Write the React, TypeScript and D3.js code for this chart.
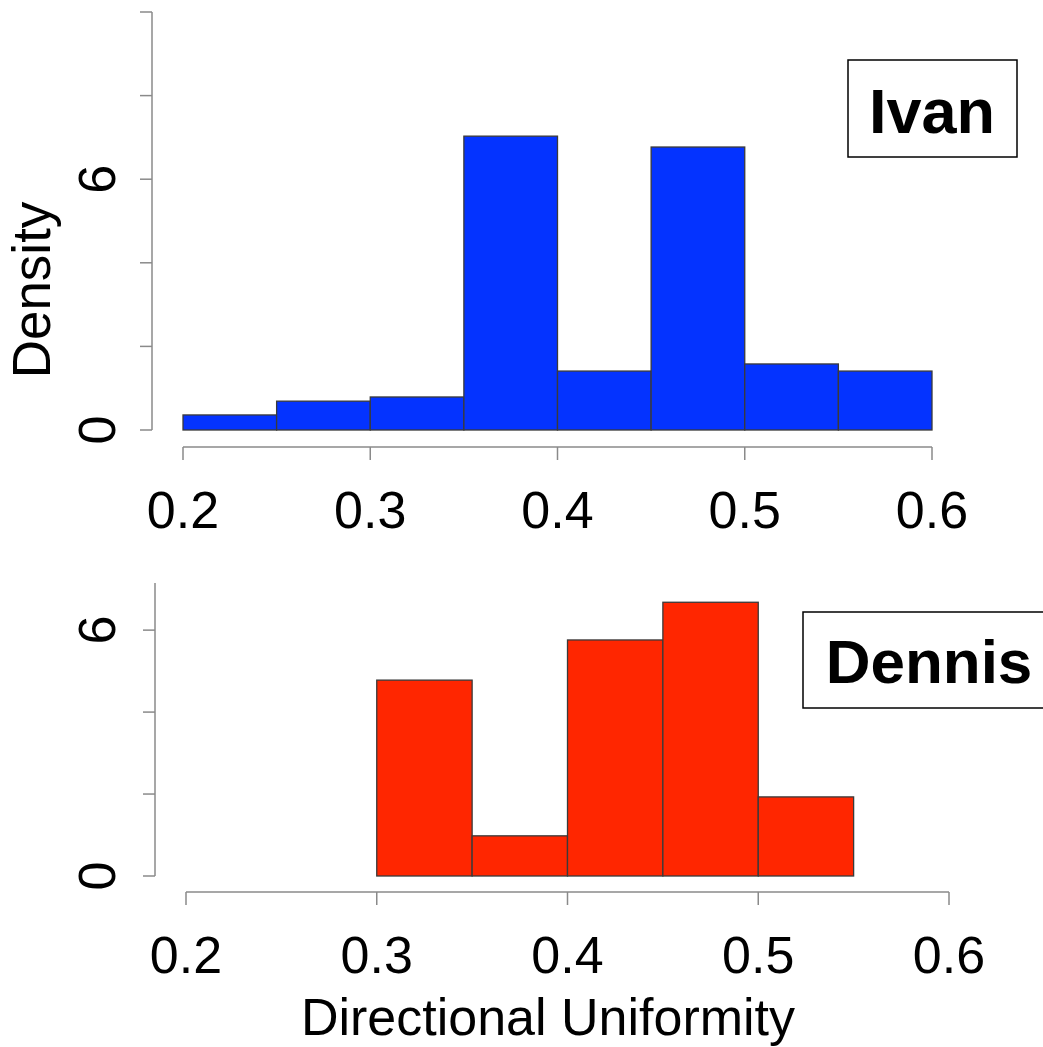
import { useEffect, useRef } from "react";
import * as d3 from "d3";

const W = 1043;
const H = 1047;

// histogram bins (left edges) and densities
const ivanBins = [0.2, 0.25, 0.3, 0.35, 0.4, 0.45, 0.5, 0.55];
const ivanDensity = [0.36, 0.69, 0.79, 7.03, 1.41, 6.77, 1.58, 1.41];

const dennisBins = [0.3, 0.35, 0.4, 0.45, 0.5];
const dennisDensity = [4.78, 0.98, 5.76, 6.68, 1.93];

const BIN_W = 0.05;
const xTicks = [0.2, 0.3, 0.4, 0.5, 0.6];
const yTicksIvan = [0, 2, 4, 6, 8, 10];
const yTickLabelsIvan = [0, 6];
const yTicksDennis = [0, 2, 4, 6];
const yTickLabelsDennis = [0, 6];

const FONT = "'Liberation Sans', Arial, Helvetica, sans-serif";
const AXIS = "#8a8a8a";

export default function App() {
  const svgRef = useRef<SVGSVGElement>(null);

  useEffect(() => {
    const svg = d3.select(svgRef.current);
    svg.selectAll("*").remove();

    svg.append("rect").attr("width", W).attr("height", H).attr("fill", "#fff");

    // ── one panel ──────────────────────────────────────────────────────────
    const panel = (opts: {
      bins: number[];
      dens: number[];
      fill: string;
      x0: number; x1: number;
      yBase: number; yTop: number; yMax: number;
      axisY: number; tickLabelY: number;
      yAxisX: number;
      yTicks: number[]; yLabels: number[];
      name: string; box: [number, number, number, number];
      nameX: number; nameY: number; nameSize: number;
    }) => {
      const x = d3.scaleLinear().domain([0.2, 0.6]).range([opts.x0, opts.x1]);
      const y = d3.scaleLinear().domain([0, opts.yMax]).range([opts.yBase, opts.yTop]);

      // bars
      svg.append("g").selectAll("rect")
        .data(opts.bins)
        .join("rect")
        .attr("x", (d) => x(d))
        .attr("width", (d) => x(d + BIN_W) - x(d))
        .attr("y", (_d, i) => y(opts.dens[i]))
        .attr("height", (_d, i) => y(0) - y(opts.dens[i]))
        .attr("fill", opts.fill)
        .attr("stroke", "#3a3a3a")
        .attr("stroke-width", 1.3);

      // x axis
      const gx = svg.append("g");
      gx.append("line")
        .attr("x1", x(0.2)).attr("x2", x(0.6))
        .attr("y1", opts.axisY).attr("y2", opts.axisY)
        .attr("stroke", AXIS).attr("stroke-width", 1.5);
      gx.selectAll("line.tick").data(xTicks).join("line")
        .attr("class", "tick")
        .attr("x1", (d) => x(d)).attr("x2", (d) => x(d))
        .attr("y1", opts.axisY).attr("y2", opts.axisY + 13)
        .attr("stroke", AXIS).attr("stroke-width", 1.5);
      gx.selectAll("text").data(xTicks).join("text")
        .attr("x", (d) => x(d)).attr("y", opts.tickLabelY)
        .attr("text-anchor", "middle")
        .attr("font-family", FONT).attr("font-size", 52)
        .attr("fill", "#000")
        .text((d) => d.toFixed(1));

      // y axis
      const gy = svg.append("g");
      gy.append("line")
        .attr("x1", opts.yAxisX).attr("x2", opts.yAxisX)
        .attr("y1", y(0)).attr("y2", y(opts.yMax))
        .attr("stroke", AXIS).attr("stroke-width", 1.5);
      gy.selectAll("line.tick").data(opts.yTicks).join("line")
        .attr("class", "tick")
        .attr("x1", opts.yAxisX - 12).attr("x2", opts.yAxisX)
        .attr("y1", (d) => y(d)).attr("y2", (d) => y(d))
        .attr("stroke", AXIS).attr("stroke-width", 1.5);
      gy.selectAll("text").data(opts.yLabels).join("text")
        .attr("transform", (d) => `translate(115,${y(d)}) rotate(-90)`)
        .attr("text-anchor", "middle")
        .attr("font-family", FONT).attr("font-size", 52)
        .attr("fill", "#000")
        .text((d) => String(d));

      // legend box
      const [bx, by, bw, bh] = opts.box;
      svg.append("rect")
        .attr("x", bx).attr("y", by).attr("width", bw).attr("height", bh)
        .attr("fill", "#fff").attr("stroke", "#000").attr("stroke-width", 1.5);
      svg.append("text")
        .attr("x", opts.nameX).attr("y", opts.nameY)
        .attr("text-anchor", "middle")
        .attr("font-family", FONT).attr("font-weight", "bold")
        .attr("font-size", opts.nameSize).attr("fill", "#000")
        .text(opts.name);
    };

    panel({
      bins: ivanBins, dens: ivanDensity, fill: "#0433ff",
      x0: 183, x1: 932,
      yBase: 430, yTop: 12, yMax: 10,
      axisY: 447, tickLabelY: 528, yAxisX: 152,
      yTicks: yTicksIvan, yLabels: yTickLabelsIvan,
      name: "Ivan", box: [848, 60, 169, 97],
      nameX: 932, nameY: 133, nameSize: 63,
    });

    panel({
      bins: dennisBins, dens: dennisDensity, fill: "#ff2600",
      x0: 186, x1: 949,
      yBase: 876, yTop: 583, yMax: 7.15,
      axisY: 892, tickLabelY: 973, yAxisX: 155,
      yTicks: yTicksDennis, yLabels: yTickLabelsDennis,
      name: "Dennis", box: [803, 612, 250, 96],
      nameX: 929, nameY: 683, nameSize: 62,
    });

    // axis titles
    svg.append("text")
      .attr("transform", "translate(50,290) rotate(-90)")
      .attr("text-anchor", "middle")
      .attr("font-family", FONT).attr("font-size", 53).attr("fill", "#000")
      .text("Density");

    svg.append("text")
      .attr("x", 548).attr("y", 1035)
      .attr("text-anchor", "middle")
      .attr("font-family", FONT).attr("font-size", 52).attr("fill", "#000")
      .text("Directional Uniformity");
  }, []);

  return (
    <svg
      ref={svgRef}
      width={W}
      height={H}
      style={{ position: "absolute", left: 0, top: 0, display: "block" }}
    />
  );
}
